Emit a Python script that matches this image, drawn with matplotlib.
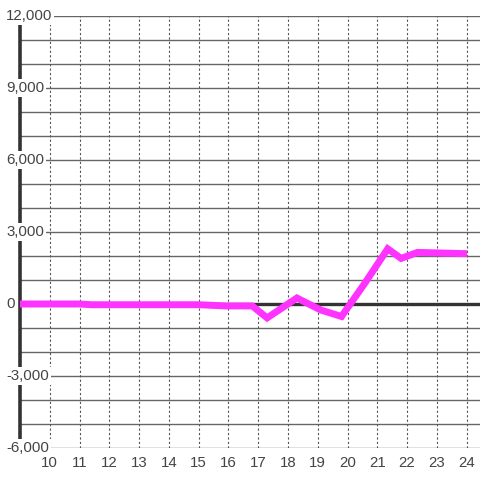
import matplotlib.pyplot as plt

# values
hours = [9.0, 11.0, 11.4, 15.0, 15.9, 16.8, 17.3, 18.3, 19.1, 19.8, 20.6, 21.35, 21.8, 22.35, 23.9]
values = [0, 0, -30, -30, -80, -80, -580, 250, -250, -520, 900, 2300, 1900, 2150, 2100]
x_ticks = list(range(10, 25))
y_labels = [12000, 9000, 6000, 3000, 0, -3000, -6000]
y_grid = list(range(-6000, 12001, 1000))

plt.rcParams['font.family'] = ['Liberation Sans', 'DejaVu Sans']

fig = plt.figure(figsize=(4.8, 4.8), dpi=100)
ax = fig.add_axes([20 / 480, 32 / 480, 460 / 480, 432 / 480])
ax.set_xlim(9, 24.45)
ax.set_ylim(-6000, 12000)

# grid
for v in y_grid:
    ax.axhline(v, color='#666666', lw=1, zorder=1)
for t in x_ticks:
    ax.axvline(t, color='#555555', lw=0.8, ls=(0, (2, 2)), zorder=1)

# zero line and left axis
ax.axhline(0, color='#333333', lw=2.4, zorder=2)
ax.axvline(9, color='#333333', lw=2.6, zorder=2, clip_on=False)

ax.plot(hours, values, color='#ff33ff', lw=5, solid_joinstyle='miter', zorder=3)

# y labels sit over the axis with a white background
for v in y_labels:
    ax.text(-14 / 460, v, f"{v:,}", transform=ax.get_yaxis_transform(),
            ha='left', va='center', fontsize=10.8, color='#444444', clip_on=False,
            bbox=dict(facecolor='white', edgecolor='none', pad=1.5), zorder=5)

ax.set_yticks([])
ax.set_xticks(x_ticks)
ax.set_xticklabels([str(t) for t in x_ticks], fontsize=10.8, color='#444444')
ax.tick_params(axis='x', length=0, pad=6)
for s in ax.spines.values():
    s.set_visible(False)

fig.savefig('out.png', dpi=100)
